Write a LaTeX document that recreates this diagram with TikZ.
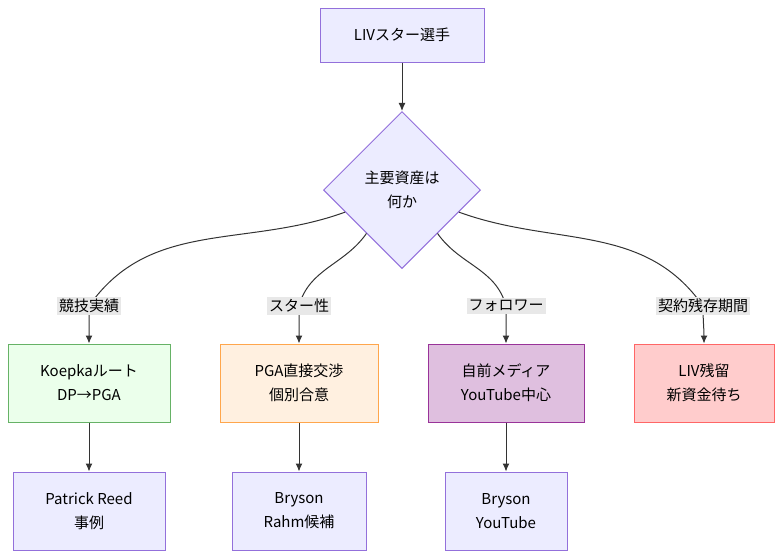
\documentclass[tikz,border=0pt]{standalone}
\usepackage{fontspec}
\setmainfont{Noto Sans CJK JP}
\usetikzlibrary{shapes.geometric,arrows.meta,calc}
\definecolor{nodefill}{HTML}{ECECFF}
\definecolor{nodeline}{HTML}{9370DB}
\definecolor{labfill}{HTML}{E8E8E8}
\definecolor{linecol}{HTML}{333333}
\tikzset{
  box/.style={draw=nodeline,fill=nodefill,line width=0.5pt,align=center,inner sep=0pt,font=\fontsize{7.5}{12}\selectfont},
  edgelab/.style={fill=labfill,inner sep=1pt,font=\fontsize{7.5}{9}\selectfont},
  arr/.style={draw=linecol,line width=0.5pt,-{Latex[length=4pt,width=3.5pt]}}
}
\begin{document}
\begin{tikzpicture}[x=0.5pt,y=-0.5pt]
\useasboundingbox (0,0) rectangle (782,558);
\node[box,minimum width=82pt,minimum height=27pt] (star) at (402,35) {LIVスター選手};
\node[box,diamond,minimum width=78.5pt,minimum height=78.5pt] (asset) at (402,190) {主要資産は\\何か};
% second row
\node[box,minimum width=81pt,minimum height=39pt,fill=green!8,draw=green!50!black!60] (koepka) at (89,383) {Koepkaルート\\DP→PGA};
\node[box,minimum width=79pt,minimum height=39pt,fill=orange!12,draw=orange!70] (pga) at (299,383) {PGA直接交渉\\個別合意};
\node[box,minimum width=78pt,minimum height=39pt,fill=violet!25,draw=violet!80] (media) at (506,383) {自前メディア\\YouTube中心};
\node[box,minimum width=70pt,minimum height=39pt,fill=red!20,draw=red!60] (liv) at (704,383) {LIV残留\\新資金待ち};
% third row
\node[box,minimum width=76pt,minimum height=39pt] (reed) at (89,511) {Patrick Reed\\事例};
\node[box,minimum width=67pt,minimum height=39pt] (rahm) at (299,511) {Bryson\\Rahm候補};
\node[box,minimum width=61pt,minimum height=39pt] (yt) at (506,511) {Bryson\\YouTube};
% label positions
\coordinate (l1) at (89,306);
\coordinate (l2) at (299,306);
\coordinate (l3) at (506,306);
\coordinate (l4) at (703,306);
\draw[arr] (star) -- (asset);
\draw[arr] ($(asset.west)!0.28!(asset.south)$) to[out=200,in=55] (l1) to[out=-90,in=90] (koepka.north);
\draw[arr] ($(asset.west)!0.55!(asset.south)$) to[out=235,in=75] (l2) to[out=-90,in=90] (pga.north);
\draw[arr] ($(asset.east)!0.55!(asset.south)$) to[out=-55,in=105] (l3) to[out=-90,in=90] (media.north);
\draw[arr] ($(asset.east)!0.28!(asset.south)$) to[out=-20,in=125] (l4) to[out=-90,in=90] (liv.north);
\draw[arr] (koepka) -- (reed);
\draw[arr] (pga) -- (rahm);
\draw[arr] (media) -- (yt);
\node[edgelab] (t1) at (l1) {競技実績};
\node[edgelab] (t2) at (l2) {スター性};
\node[edgelab] (t3) at (l3) {フォロワー};
\node[edgelab] (t4) at (l4) {契約残存期間};
\end{tikzpicture}
\end{document}
